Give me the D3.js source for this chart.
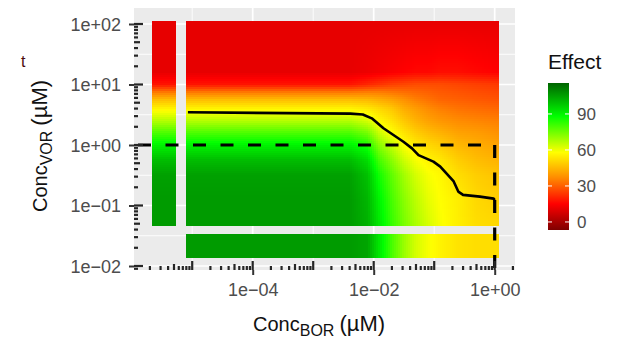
<!DOCTYPE html>
<html>
<head>
<meta charset="utf-8">
<script src="https://cdn.jsdelivr.net/npm/d3@7"></script>
<style>
  body { margin: 0; background: #fff; }
  svg { display: block; }
</style>
</head>
<body>
<div id="chart"></div>
<script>
// Grid of the response surface (BOR columns, VOR rows, µM)
const borConc = [8e-6, 1e-3, 4e-3, 8e-3, 0.0125, 0.02, 0.032, 0.05, 0.08, 0.125, 0.25, 0.5, 1.17];
const vorConc = [112, 16, 10, 7.6, 5.6, 4, 2.5, 1.6, 1, 0.56, 0.32, 0.125, 0.046];
const effect = [
  [11, 11, 11, 11, 11, 11, 11, 11, 11, 11, 11, 11, 11],
  [11, 11, 11, 12, 13, 14, 15, 16, 16, 17, 17, 16, 15],
  [18, 18, 18, 21, 23, 25, 26, 27, 27, 27, 26, 25, 24],
  [33, 33, 33, 34, 34, 33, 32, 31, 30, 29, 28, 27, 26],
  [46, 46, 46, 45, 43, 41, 38, 35, 33, 31, 30, 29, 28],
  [56, 56, 56, 54, 51, 48, 43, 40, 37, 35, 33, 32, 31],
  [67, 67, 67, 63, 57, 53, 48, 44, 41, 39, 37, 36, 35],
  [79, 79, 79, 74, 64, 58, 53, 49, 46, 44, 41, 40, 38],
  [90, 90, 90, 85, 72, 65, 58, 54, 51, 49, 45, 43, 41],
  [100, 100, 100, 94, 80, 72, 64, 59, 56, 54, 49, 46, 44],
  [105, 105, 105, 99, 86, 77, 69, 63, 59, 57, 52, 49, 47],
  [106, 106, 106, 101, 90, 80, 72, 66, 61, 58, 55, 51, 49],
  [106, 106, 106, 102, 92, 82, 74, 68, 63, 59, 55, 52, 51]
];
// single-drug responses (other drug at 0)
const effectBorZero = [11, 11, 18, 33, 46, 56, 67, 79, 90, 100, 105, 106, 106];
const effectVorZero = [106, 106, 106, 104, 92, 80, 70, 63, 59, 56, 53, 52, 52];
// where the zero concentration is drawn on the log axes
const borZeroBand = [2.2e-6, 5.4e-6];
const vorZeroBand = [0.014, 0.034];

// contour line
const contourBor = [8.5e-6, 4.1e-3, 6.6e-3, 9.3e-3, 0.0145, 0.031, 0.043, 0.055, 0.097, 0.126, 0.21, 0.25, 0.30, 0.57, 0.96, 1];
const contourVor = [3.47, 3.3, 3.2, 2.76, 1.89, 1.13, 0.88, 0.68, 0.53, 0.44, 0.25, 0.17, 0.15, 0.14, 0.13, 0.123];

// reference (dashed) point
const refBor = 1;
const refVor = 1;

const xTickValues = [1e-4, 1e-2, 1];
const xTickLabels = ["1e\u221204", "1e\u221202", "1e+00"];
const yTickValues = [1e-2, 1e-1, 1, 10, 100];
const yTickLabels = ["1e\u221202", "1e\u221201", "1e+00", "1e+01", "1e+02"];
const legendBreaks = [0, 30, 60, 90];
const effectRange = [-6.7, 115.8];
const effectStops = [-6.7, 15, 37, 58, 88, 115.8];
const effectColors = ["#7f0000", "#ff0000", "#ff8c00", "#ffff00", "#00ff00", "#006400"];

// layout
const width = 619, height = 339;
const panel = { left: 134, right: 515, top: 8, bottom: 270 };
const font = "'Liberation Sans', Arial, sans-serif";

const svg = d3.select("#chart").append("svg")
  .attr("width", width)
  .attr("height", height)
  .attr("viewBox", [0, 0, width, height])
  .style("background", "#fff");

const x = d3.scaleLog().domain([1e-4, 1]).range([252.7, 494.7]);
const y = d3.scaleLog().domain([0.01, 100]).range([266, 24]);
const color = d3.scaleLinear().domain(effectStops).range(effectColors).clamp(true);

svg.append("defs").append("clipPath").attr("id", "panelClip")
  .append("rect")
  .attr("x", panel.left).attr("y", panel.top)
  .attr("width", panel.right - panel.left).attr("height", panel.bottom - panel.top);

// panel background + grid
svg.append("rect")
  .attr("x", panel.left).attr("y", panel.top)
  .attr("width", panel.right - panel.left).attr("height", panel.bottom - panel.top)
  .attr("fill", "#ebebeb");

const grid = svg.append("g").attr("clip-path", "url(#panelClip)");
const xMinor = [1e-5, 1e-3, 1e-1];
const yMinor = [-2, -1, 0, 1].map(k => Math.pow(10, k + 0.5));
grid.selectAll("line.xminor").data(xMinor).join("line")
  .attr("x1", d => x(d)).attr("x2", d => x(d))
  .attr("y1", panel.top).attr("y2", panel.bottom)
  .attr("stroke", "#fff").attr("stroke-width", 0.9);
grid.selectAll("line.yminor").data(yMinor).join("line")
  .attr("y1", d => y(d)).attr("y2", d => y(d))
  .attr("x1", panel.left).attr("x2", panel.right)
  .attr("stroke", "#fff").attr("stroke-width", 0.9);
grid.selectAll("line.xmajor").data(xTickValues).join("line")
  .attr("x1", d => x(d)).attr("x2", d => x(d))
  .attr("y1", panel.top).attr("y2", panel.bottom)
  .attr("stroke", "#fff").attr("stroke-width", 1.7);
grid.selectAll("line.ymajor").data(yTickValues).join("line")
  .attr("y1", d => y(d)).attr("y2", d => y(d))
  .attr("x1", panel.left).attr("x2", panel.right)
  .attr("stroke", "#fff").attr("stroke-width", 1.7);

// surface: bilinear between grid nodes in log space
const lBor = borConc.map(Math.log10);
const lVor = vorConc.map(Math.log10);

function interp1(nodes, vals, v) {
  // nodes may be ascending or descending
  const asc = nodes[0] < nodes[nodes.length - 1];
  const n = asc ? nodes : nodes.slice().reverse();
  const w = asc ? vals : vals.slice().reverse();
  if (v <= n[0]) return w[0];
  if (v >= n[n.length - 1]) return w[w.length - 1];
  const i = d3.bisectRight(n, v) - 1;
  const t = (v - n[i]) / (n[i + 1] - n[i]);
  return w[i] + t * (w[i + 1] - w[i]);
}

function surfaceAt(bor, vor) {
  const lb = Math.log10(bor), lv = Math.log10(vor);
  const rowVals = effect.map(row => interp1(lBor, row, lb));
  return interp1(lVor, rowVals, lv);
}

const step = 2;
const cells = [];
const mx0 = x(borConc[0]), mx1 = x(borConc[borConc.length - 1]);
const my0 = y(vorConc[0]), my1 = y(vorConc[vorConc.length - 1]);
for (let px = mx0; px < mx1; px += step) {
  for (let py = my0; py < my1; py += step) {
    const w = Math.min(step, mx1 - px), h = Math.min(step, my1 - py);
    const v = surfaceAt(x.invert(px + w / 2), y.invert(py + h / 2));
    cells.push({ px, py, w, h, v });
  }
}
// BOR = 0 strip
const sx0 = x(borZeroBand[0]), sx1 = x(borZeroBand[1]);
for (let py = my0; py < my1; py += step) {
  const h = Math.min(step, my1 - py);
  const v = interp1(lVor, effectBorZero, Math.log10(y.invert(py + h / 2)));
  cells.push({ px: sx0, py, w: sx1 - sx0, h, v });
}
// VOR = 0 strip
const sy0 = y(vorZeroBand[1]), sy1 = y(vorZeroBand[0]);
for (let px = mx0; px < mx1; px += step) {
  const w = Math.min(step, mx1 - px);
  const v = interp1(lBor, effectVorZero, Math.log10(x.invert(px + w / 2)));
  cells.push({ px, py: sy0, w, h: sy1 - sy0, v });
}

svg.append("g")
  .attr("shape-rendering", "crispEdges")
  .selectAll("rect").data(cells).join("rect")
  .attr("x", d => d.px).attr("y", d => d.py)
  .attr("width", d => d.w + 0.4).attr("height", d => d.h + 0.4)
  .attr("fill", d => color(d.v));

// contour
const contour = contourBor.map((b, i) => [b, contourVor[i]]);
svg.append("path")
  .datum(contour)
  .attr("fill", "none")
  .attr("stroke", "#000")
  .attr("stroke-width", 2.6)
  .attr("stroke-linejoin", "round")
  .attr("d", d3.line().x(d => x(d[0])).y(d => y(d[1])));

// reference dashed lines
const dashes = svg.append("g").attr("clip-path", "url(#panelClip)");
dashes.append("line")
  .attr("x1", panel.left).attr("x2", x(refBor))
  .attr("y1", y(refVor)).attr("y2", y(refVor))
  .attr("stroke", "#000").attr("stroke-width", 3.2)
  .attr("stroke-dasharray", "13 14.5").attr("stroke-dashoffset", 23.5);
dashes.append("line")
  .attr("x1", x(refBor)).attr("x2", x(refBor))
  .attr("y1", y(refVor)).attr("y2", panel.bottom)
  .attr("stroke", "#000").attr("stroke-width", 3.2)
  .attr("stroke-dasharray", "13 14.5");

// log ticks (inside panel, left and bottom)
const logTicks = [];
for (let k = -7; k <= 2; k++) {
  for (let m = 1; m <= 9; m++) logTicks.push({ v: m * Math.pow(10, k), len: m === 1 ? 9 : (m === 5 ? 6 : 4) });
}
const xLog = logTicks.filter(d => x(d.v) >= panel.left && x(d.v) <= panel.right);
const yLog = logTicks.filter(d => y(d.v) >= panel.top && y(d.v) <= panel.bottom);
const lt = svg.append("g").attr("stroke", "#262626").attr("stroke-width", 2.2);
lt.selectAll("line.lx").data(xLog).join("line")
  .attr("x1", d => x(d.v)).attr("x2", d => x(d.v))
  .attr("y1", panel.bottom).attr("y2", d => panel.bottom - d.len);
lt.selectAll("line.ly").data(yLog).join("line")
  .attr("y1", d => y(d.v)).attr("y2", d => y(d.v))
  .attr("x1", panel.left).attr("x2", d => panel.left + d.len);

// axes
const xAxis = svg.append("g")
  .attr("transform", `translate(0,${panel.bottom})`)
  .call(d3.axisBottom(x).tickValues(xTickValues).tickFormat((d, i) => xTickLabels[i]).tickSize(5).tickPadding(5));
const yAxis = svg.append("g")
  .attr("transform", `translate(${panel.left},0)`)
  .call(d3.axisLeft(y).tickValues(yTickValues).tickFormat((d, i) => yTickLabels[i]).tickSize(5).tickPadding(8));
[xAxis, yAxis].forEach(axis => {
  axis.select(".domain").remove();
  axis.selectAll(".tick line").attr("stroke", "#333").attr("stroke-width", 2);
  axis.selectAll(".tick text")
    .attr("fill", "#4d4d4d")
    .style("font-family", font)
    .style("font-size", "18px");
});
xAxis.selectAll(".tick text").attr("dy", "0.9em");
yAxis.selectAll(".tick text").attr("dy", "0.35em");

// axis titles
const xt = svg.append("text")
  .attr("x", 253).attr("y", 331)
  .attr("fill", "#111")
  .style("font-family", font)
  .style("font-size", "20px");
xt.append("tspan").text("Conc");
xt.append("tspan").attr("dy", 5).style("font-size", "16px").text("BOR");
xt.append("tspan").attr("dy", -5).attr("dx", 5).style("font-size", "22px").text("(\u00b5M)");

const yt = svg.append("text")
  .attr("transform", "translate(47,212) rotate(-90)")
  .attr("fill", "#111")
  .style("font-family", font)
  .style("font-size", "20px");
yt.append("tspan").text("Conc");
yt.append("tspan").attr("dy", 5).style("font-size", "16px").text("VOR");
yt.append("tspan").attr("dy", -5).attr("dx", 5).style("font-size", "22px").text("(\u00b5M)");

svg.append("text")
  .attr("x", 21).attr("y", 67)
  .attr("fill", "#4a0c0c")
  .style("font-family", font)
  .style("font-size", "16px")
  .text("t");

// legend
const lg = svg.append("g");
const barX = 548, barW = 21;
const ly = d3.scaleLinear().domain(effectRange).range([230, 83]);
const grad = svg.select("defs").append("linearGradient")
  .attr("id", "effectGrad")
  .attr("x1", 0).attr("y1", 1).attr("x2", 0).attr("y2", 0);
grad.selectAll("stop").data(effectStops).join("stop")
  .attr("offset", d => (d - effectRange[0]) / (effectRange[1] - effectRange[0]))
  .attr("stop-color", (d, i) => effectColors[i]);
lg.append("rect")
  .attr("x", barX).attr("y", ly(effectRange[1]))
  .attr("width", barW).attr("height", ly(effectRange[0]) - ly(effectRange[1]))
  .attr("fill", "url(#effectGrad)");
lg.selectAll("line.tl").data(legendBreaks).join("line")
  .attr("x1", barX).attr("x2", barX + 4)
  .attr("y1", d => ly(d)).attr("y2", d => ly(d))
  .attr("stroke", "#fff").attr("stroke-width", 1);
lg.selectAll("line.tr").data(legendBreaks).join("line")
  .attr("x1", barX + barW - 4).attr("x2", barX + barW)
  .attr("y1", d => ly(d)).attr("y2", d => ly(d))
  .attr("stroke", "#fff").attr("stroke-width", 1);
lg.selectAll("text.lab").data(legendBreaks).join("text")
  .attr("x", 577).attr("y", d => ly(d)).attr("dy", "0.35em")
  .attr("fill", "#4d4d4d")
  .style("font-family", font)
  .style("font-size", "17px")
  .text(d => d);
lg.append("text")
  .attr("x", 548).attr("y", 69)
  .attr("fill", "#111")
  .style("font-family", font)
  .style("font-size", "21px")
  .text("Effect");
</script>
</body>
</html>
